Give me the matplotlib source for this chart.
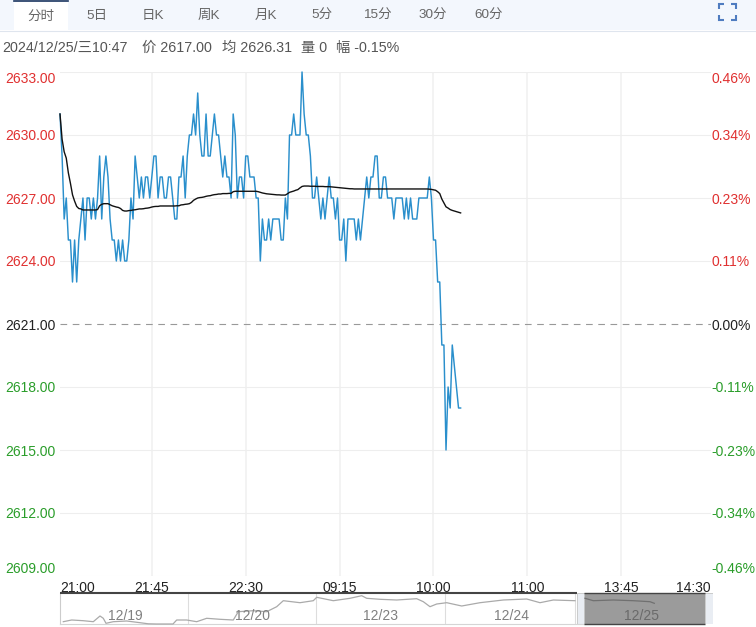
"""分时走势图 (2024/12/25)."""

import matplotlib

matplotlib.use("Agg")
import matplotlib.pyplot as plt
from matplotlib.patches import Rectangle

plt.rcParams["font.family"] = ["Liberation Sans", "Noto Sans CJK SC", "DejaVu Sans"]

W, H = 756, 627

# 价格 (每分钟)
price = [
    2631, 2629, 2626, 2627, 2625, 2625, 2623, 2625, 2623, 2625,
    2626, 2627, 2625, 2627, 2627, 2626, 2627, 2626, 2627, 2629,
    2626, 2628, 2629, 2628, 2626, 2625, 2625, 2624, 2625, 2624,
    2625, 2624, 2624, 2625, 2627, 2626, 2629, 2628, 2627, 2628,
    2627, 2628, 2628, 2627, 2628, 2629, 2629, 2627, 2628, 2628,
    2627, 2627, 2628, 2628, 2627, 2626, 2626, 2628, 2628, 2629,
    2627, 2629, 2630, 2630, 2631, 2630, 2632, 2630, 2629, 2629,
    2631, 2629, 2629, 2630, 2631, 2630, 2630, 2629, 2628, 2629,
    2628, 2628, 2627, 2631, 2630, 2627, 2628, 2628, 2627, 2629,
    2629, 2628, 2628, 2628, 2627, 2627, 2624, 2626, 2625, 2625,
    2626, 2625, 2626, 2626, 2626, 2626, 2625, 2625, 2627, 2626,
    2630, 2630, 2631, 2630, 2630, 2630, 2633, 2631, 2630, 2630,
    2629, 2627, 2627, 2628, 2627, 2626, 2627, 2626, 2627, 2628,
    2627, 2627, 2626, 2627, 2625, 2625, 2626, 2624, 2626, 2626,
    2626, 2626, 2625, 2626, 2625, 2626, 2627, 2628, 2627, 2628,
    2628, 2629, 2629, 2627, 2627, 2628, 2628, 2627, 2627, 2627,
    2626, 2627, 2627, 2627, 2627, 2626, 2627, 2626, 2627, 2626,
    2626, 2626, 2627, 2627, 2627, 2627, 2627, 2628, 2627, 2625,
    2625, 2623, 2623, 2620, 2620, 2615, 2618, 2617, 2620, 2619,
    2618, 2617, 2617,
]

# 均价
avg_price = [
    2631.00, 2629.80, 2629.20, 2628.90, 2628.20, 2627.70, 2627.15, 2626.85, 2626.60, 2626.50,
    2626.48, 2626.43, 2626.43, 2626.43, 2626.43, 2626.43, 2626.43, 2626.43, 2626.45, 2626.63,
    2626.70, 2626.73, 2626.73, 2626.73, 2626.68, 2626.63, 2626.60, 2626.57, 2626.55, 2626.50,
    2626.41, 2626.38, 2626.38, 2626.40, 2626.41, 2626.43, 2626.44, 2626.46, 2626.48, 2626.48,
    2626.49, 2626.51, 2626.52, 2626.54, 2626.57, 2626.59, 2626.60, 2626.60, 2626.62, 2626.62,
    2626.62, 2626.62, 2626.62, 2626.62, 2626.62, 2626.62, 2626.63, 2626.63, 2626.67, 2626.68,
    2626.70, 2626.71, 2626.73, 2626.79, 2626.89, 2626.95, 2627.00, 2627.02, 2627.03, 2627.05,
    2627.08, 2627.10, 2627.11, 2627.14, 2627.16, 2627.17, 2627.19, 2627.19, 2627.21, 2627.21,
    2627.21, 2627.22, 2627.22, 2627.30, 2627.32, 2627.32, 2627.32, 2627.32, 2627.32, 2627.32,
    2627.32, 2627.32, 2627.32, 2627.32, 2627.32, 2627.30, 2627.27, 2627.24, 2627.22, 2627.20,
    2627.19, 2627.18, 2627.17, 2627.16, 2627.15, 2627.15, 2627.14, 2627.14, 2627.14, 2627.20,
    2627.27, 2627.30, 2627.33, 2627.37, 2627.40, 2627.48, 2627.55, 2627.57, 2627.57, 2627.57,
    2627.56, 2627.56, 2627.56, 2627.55, 2627.55, 2627.55, 2627.55, 2627.54, 2627.54, 2627.54,
    2627.53, 2627.52, 2627.51, 2627.50, 2627.49, 2627.48, 2627.47, 2627.46, 2627.45, 2627.44,
    2627.44, 2627.43, 2627.43, 2627.43, 2627.43, 2627.43, 2627.43, 2627.43, 2627.43, 2627.43,
    2627.43, 2627.43, 2627.43, 2627.43, 2627.43, 2627.43, 2627.43, 2627.43, 2627.43, 2627.43,
    2627.43, 2627.43, 2627.43, 2627.43, 2627.43, 2627.43, 2627.43, 2627.43, 2627.43, 2627.43,
    2627.43, 2627.43, 2627.43, 2627.43, 2627.43, 2627.43, 2627.43, 2627.42, 2627.41, 2627.39,
    2627.37, 2627.30, 2627.21, 2626.95, 2626.76, 2626.58, 2626.52, 2626.45, 2626.41, 2626.38,
    2626.35, 2626.32, 2626.29, 2626.27,
][:193]

y_ticks = [2633, 2630, 2627, 2624, 2621, 2618, 2615, 2612, 2609]
y_labels = ["2633.00", "2630.00", "2627.00", "2624.00", "2621.00",
            "2618.00", "2615.00", "2612.00", "2609.00"]
pct_labels = ["0.46%", "0.34%", "0.23%", "0.11%", "0.00%",
              "-0.11%", "-0.23%", "-0.34%", "-0.46%"]
x_ticks = [0, 44, 89, 134, 179, 224, 269, 312]
x_labels = ["21:00", "21:45", "22:30", "09:15", "10:00", "11:00", "13:45", "14:30"]

tabs = ["分时", "5日", "日K", "周K", "月K", "5分", "15分", "30分", "60分"]
tab_x = [41, 97, 153, 209, 266, 322, 377, 433, 489]

status = ["2024/12/25/三10:47", "价 2617.00", "均 2626.31", "量 0", "幅 -0.15%"]
status_x = [2, 142, 222, 301, 336]

# 底部缩略图
nav_x = [3.3, 11.7, 23.3, 33.3, 40, 43.3, 46, 53.3, 66.7, 80, 88.3, 96.7, 113, 116.7,
         126.7, 136.7, 146.7, 160, 173.3, 178.3, 193.3, 206.7, 216.7, 223.3, 240, 253.3,
         256.7, 273.3, 290, 301.7, 306.7, 320, 336.7, 356.7, 363.3, 370, 376.7, 386.7,
         401.7, 420, 443.3, 466.7, 480, 493.3, 515]
nav_y = [2.3, 4, 3.3, 2.3, 8, 5.7, 0.7, 2.3, 3, 1.3, 0.2, 0, 0, 4,
         4, 2.3, 5.7, 4.7, 4, 12.3, 13.3, 12.3, 17.3, 23.3, 21.3, 23.3,
         26.7, 23.3, 25.7, 28.3, 25.7, 24.7, 24, 25.3, 22.3, 17.3, 20, 21.3,
         18, 21.3, 24, 25, 21.3, 24, 23.3]
sel_x = [525, 533.3, 553.3, 573.3, 590, 594.3]
sel_y = [25.7, 23.3, 24, 23.3, 22.3, 20.7]
day_labels = ["12/19", "12/20", "12/23", "12/24", "12/25"]
day_x = [65, 193, 321, 452, 582]
day_sep = [128, 256, 385.5, 515]

RED = "#e03030"
GREEN = "#2a9d2a"
BLACK = "#222222"
TEXT = "#555555"
LABEL_SIZE = 10


def price_color(v):
    if v > 2621:
        return RED
    if v < 2621:
        return GREEN
    return BLACK


def px_axes(left, top, right, bottom, **kw):
    return fig.add_axes(
        [left / W, 1 - bottom / H, (right - left) / W, (bottom - top) / H], **kw
    )


fig = plt.figure(figsize=(W / 100, H / 100), dpi=100, facecolor="white")

# 工具栏和状态栏
bg = fig.add_axes([0, 0, 1, 1], zorder=0)
bg.set_xlim(0, W)
bg.set_ylim(H, 0)
bg.axis("off")
bg.add_patch(Rectangle((0, 0), W, 30, fc="#f3f7fd", ec="none"))
bg.plot([0, W], [30.5, 30.5], color="#dfe5ee", lw=0.8)
bg.add_patch(Rectangle((14, 0), 54, 31, fc="white", ec="none"))
bg.plot([14, 68], [0.7, 0.7], color="#1a3560", lw=1.2)
for label, x in zip(tabs, tab_x):
    y = 16.5 if label == "分时" else 15.5
    bg.text(x, y, label, ha="center", va="center", fontsize=9.7, color="#666666")
for label, x in zip(status, status_x):
    bg.text(x, 48, label, ha="left", va="center", fontsize=10.3, color=TEXT)

# 全屏图标
for cx, cy, dx, dy in [(719, 4, 1, 1), (736, 4, -1, 1), (719, 20, 1, -1), (736, 20, -1, -1)]:
    bg.plot([cx + 5 * dx, cx, cx], [cy, cy, cy + 5 * dy], color="#4f7cc0", lw=1.5,
            solid_capstyle="butt", solid_joinstyle="miter")

# 主图
ax = px_axes(60, 72, 711, 576, zorder=2)
ax.patch.set_alpha(0)
ax.set_xlim(0, 312)
ax.set_ylim(2609, 2633)
for s in ax.spines.values():
    s.set_visible(False)
ax.set_xticks(x_ticks)
ax.set_xticklabels(x_labels, fontsize=LABEL_SIZE, color=BLACK)
ax.set_yticks(y_ticks)
ax.set_yticklabels(y_labels, fontsize=LABEL_SIZE)
ax.tick_params(axis="x", length=0, pad=3.5)
ax.tick_params(axis="y", length=0, pad=39.6)
ax.grid(True, axis="y", color="#eeeeee", lw=0.8)
ax.grid(True, axis="x", color="#f1f1f1", lw=1.2)
ax.set_axisbelow(True)

for v, t, g in zip(y_ticks, ax.get_yticklabels(), ax.yaxis.get_gridlines()):
    t.set_color(price_color(v))
    t.set_ha("left")
    if v == 2621:
        g.set(color="#999999", linestyle=(0, (6, 5)), lw=0.8)
ax.get_yticklabels()[0].set_va("top")
ax.get_yticklabels()[-1].set_va("bottom")

ax.xaxis.get_gridlines()[0].set_visible(False)
ax.xaxis.get_gridlines()[-1].set_visible(False)
ax.get_xticklabels()[0].set_ha("left")
ax.get_xticklabels()[-1].set_ha("right")

ax.plot(range(len(price)), price, color="#2a8fcc", lw=1.05, clip_on=False, zorder=3)
ax.plot(range(len(avg_price)), avg_price, color="#111111", lw=1.0, clip_on=False, zorder=4)

# 右侧涨跌幅
ax_r = ax.twinx()
ax_r.patch.set_alpha(0)
ax_r.set_ylim(ax.get_ylim())
for s in ax_r.spines.values():
    s.set_visible(False)
ax_r.set_yticks(y_ticks)
ax_r.set_yticklabels(pct_labels, fontsize=LABEL_SIZE)
ax_r.tick_params(axis="y", length=0, pad=0.2)
for v, t in zip(y_ticks, ax_r.get_yticklabels()):
    t.set_color(price_color(v))
ax_r.get_yticklabels()[0].set_va("top")
ax_r.get_yticklabels()[-1].set_va("bottom")

# 缩略图
nav = px_axes(60, 593, 713, 624, zorder=3)
nav.set_xlim(0, 653)
nav.set_ylim(0, 31)
nav.patch.set_alpha(0)
nav.set_xticks([])
nav.set_yticks([])
for s in nav.spines.values():
    s.set_visible(False)
nav.plot([0, 0], [0, 31], color="#cccccc", lw=0.8, clip_on=False)
nav.plot([0, 524], [0, 0], color="#d5d5d5", lw=0.8, clip_on=False)
for x in day_sep:
    nav.axvline(x, color="#dddddd", lw=0.8)
nav.add_patch(Rectangle((524, 0), 121, 31, fc="#9b9b9b", ec="none"))
nav.plot([0, 517], [31, 31], color="#444444", lw=1.5, solid_capstyle="butt", clip_on=False)
nav.plot([524, 645], [31, 31], color="#444444", lw=1.0, solid_capstyle="butt", clip_on=False)
nav.plot([524, 645], [0, 0], color="#444444", lw=1.0, solid_capstyle="butt", clip_on=False)
for x0, w in [(517, 7), (645, 8)]:
    nav.add_patch(Rectangle((x0, 0), w, 31, fc="#e9edf3", ec="#c4c4c4", lw=0.6))
nav.plot(nav_x, nav_y, color="#aaaaaa", lw=0.9, clip_on=False)
nav.plot(sel_x, sel_y, color="#707070", lw=0.9)
for label, x in zip(day_labels, day_x):
    color = "#6a6a6a" if label == "12/25" else "#808080"
    nav.text(x, 8, label, ha="center", va="center", fontsize=LABEL_SIZE, color=color)

fig.savefig("out.png", dpi=100)
